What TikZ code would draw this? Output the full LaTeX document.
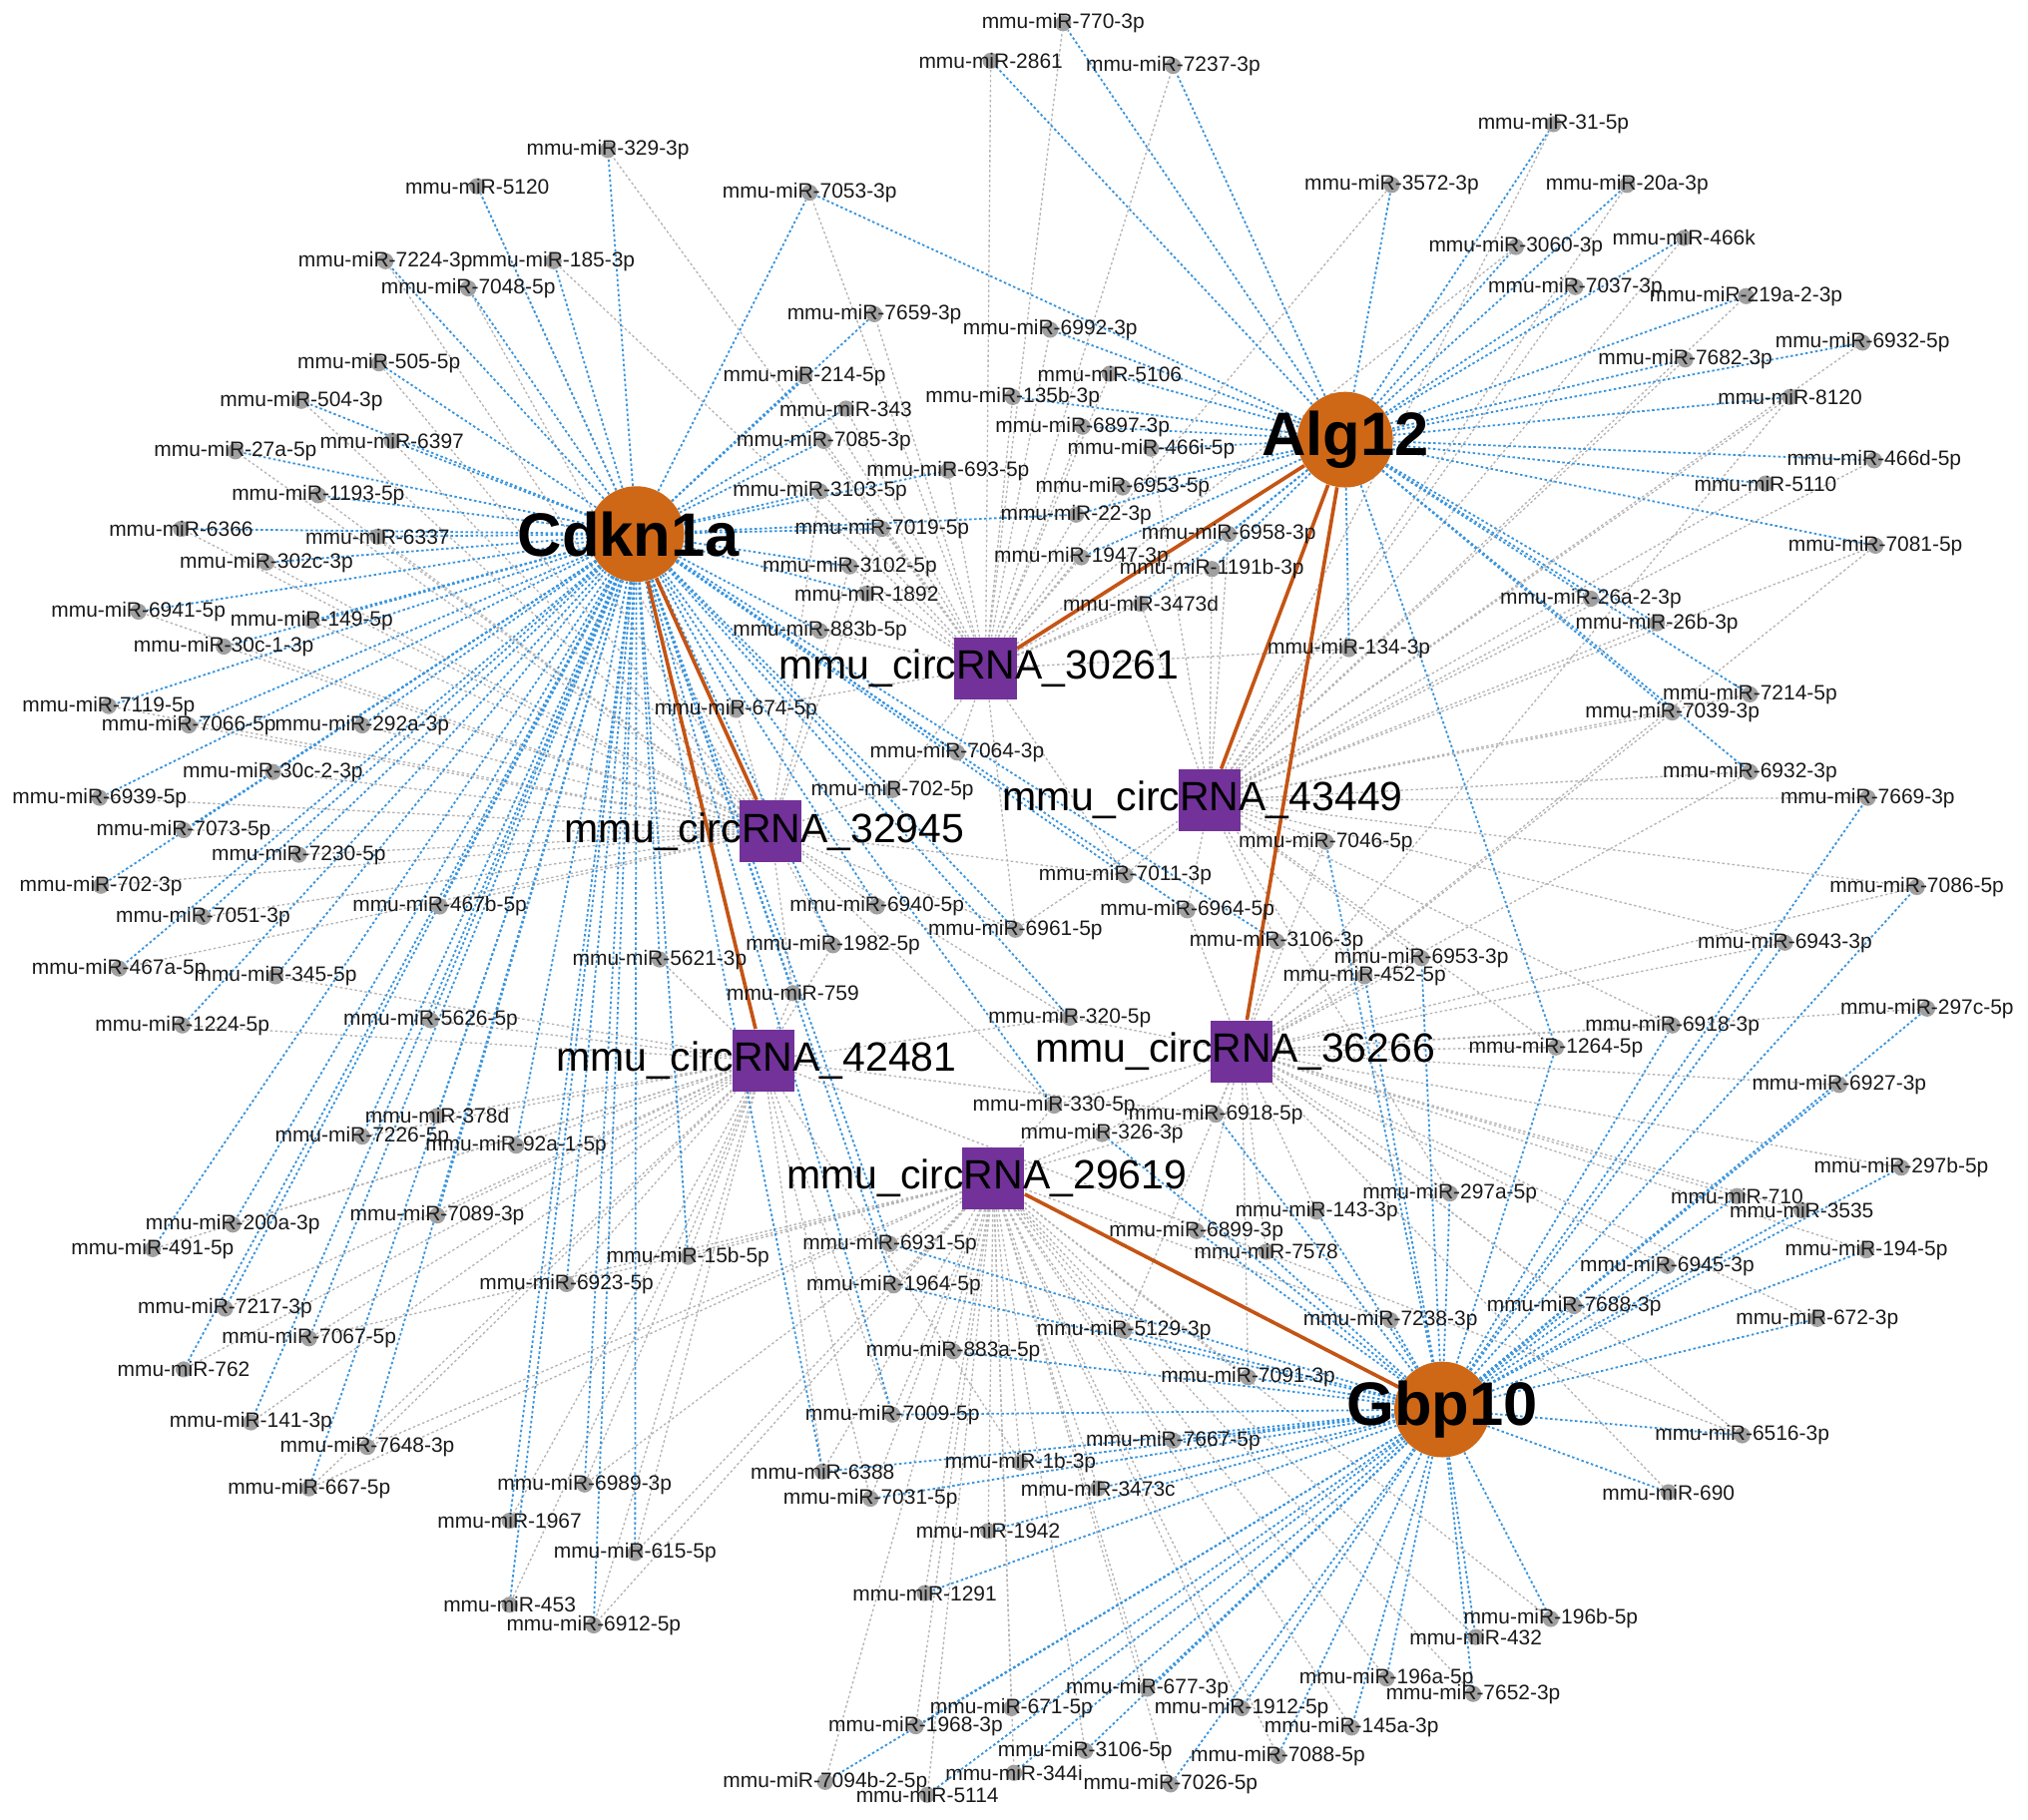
\documentclass[tikz,border=0pt]{standalone}
\usepackage{fontspec}
\setmainfont{Liberation Sans}
\definecolor{geneorange}{RGB}{206,104,22}
\definecolor{circpurple}{RGB}{114,50,154}
\definecolor{dotgray}{RGB}{160,160,160}
\definecolor{labgray}{RGB}{25,25,25}
\definecolor{edgeblue}{RGB}{55,148,222}
\definecolor{edgegray}{RGB}{180,180,180}
\definecolor{edgeorange}{RGB}{196,84,20}
\pgfdeclarelayer{edges}
\pgfsetlayers{edges,main}
\begin{document}
\begin{tikzpicture}[x=0.02cm,y=-0.02cm,
  mir/.style={circle, fill=dotgray, inner sep=0pt, minimum size=0.25cm},
  mirlab/.style={font=\fontsize{9.2}{10}\selectfont, text=labgray, inner sep=0pt},
  gene/.style={circle, fill=geneorange, minimum size=1.48cm, inner sep=0pt},
  genelab/.style={font=\fontsize{27}{30}\selectfont\bfseries, text=black, inner sep=0pt},
  circ/.style={rectangle, fill=circpurple, minimum size=0.96cm, inner sep=0pt},
  circlab/.style={font=\fontsize{18}{20}\selectfont, text=black, inner sep=0pt, xshift=-0.1cm},
  blueedge/.style={draw=edgeblue, line width=0.8pt, dash pattern=on 1.1pt off 1.1pt},
  grayedge/.style={draw=edgegray, line width=0.6pt, dash pattern=on 1.1pt off 1.1pt},
  orangeedge/.style={draw=edgeorange, line width=1.6pt}]
\useasboundingbox (0,0) rectangle (1568,1407);

% genes
\node[gene, label={[genelab, xshift=-0.12cm]center:Cdkn1a}] (cdkn) at (492,413) {};
\node[gene, label={[genelab]center:Alg12}] (alg) at (1040,340) {};
\node[gene, label={[genelab]center:Gbp10}] (gbp) at (1115,1090) {};

% circRNAs
\node[circ, label={[circlab]center:mmu\_circRNA\_30261}] (A) at (762,517) {};
\node[circ, label={[circlab]center:mmu\_circRNA\_32945}] (B) at (596,643) {};
\node[circ, label={[circlab]center:mmu\_circRNA\_43449}] (C) at (935,619) {};
\node[circ, label={[circlab]center:mmu\_circRNA\_42481}] (D) at (590,820) {};
\node[circ, label={[circlab]center:mmu\_circRNA\_36266}] (E) at (960,813) {};
\node[circ, label={[circlab]center:mmu\_circRNA\_29619}] (F) at (768,911) {};

% miRNAs
\foreach \i/\x/\y/\lab in {
1/822/18/770-3p, 2/766/47/2861, 3/907/51/7237-3p, 4/470/116/329-3p, 5/369/144/5120,
6/626/149/7053-3p, 7/1201/96/31-5p, 8/1076/143/3572-3p, 9/1258/143/20a-3p, 10/1172/191/3060-3p,
11/1302/184/466k, 12/1218/222/7037-3p, 13/1350/229/219a-2-3p, 14/298/202/7224-3p, 15/428/202/185-3p,
16/362/223/7048-5p, 17/676/243/7659-3p, 18/812/255/6992-3p, 19/1303/278/7682-3p, 20/1440/265/6932-5p,
21/293/281/505-5p, 22/622/291/214-5p, 23/858/289/5106, 24/783/307/135b-3p, 25/654/316/343,
26/1384/307/8120, 27/233/310/504-3p, 28/303/341/6397, 29/182/349/27a-5p, 30/637/341/7085-3p,
31/837/330/6897-3p, 32/890/347/466i-5p, 33/1449/356/466d-5p, 34/1365/374/5110, 35/733/364/693-5p,
36/246/383/1193-5p, 37/634/380/3103-5p, 38/868/377/6953-5p, 39/832/398/22-3p, 40/140/409/6366,
41/292/415/6337, 42/682/409/7019-5p, 43/950/413/6958-3p, 44/1450/422/7081-5p, 45/206/435/302c-3p,
46/836/431/1947-3p, 47/657/438/3102-5p, 48/937/440/1191b-3p, 49/670/459/1892, 50/882/467/3473d,
51/1230/463/26a-2-3p, 52/1281/482/26b-3p, 53/107/473/6941-5p, 54/241/480/149-5p, 55/173/500/30c-1-3p,
56/634/488/883b-5p, 57/1043/502/134-3p, 58/1353/537/7214-5p, 59/1293/551/7039-3p, 60/84/546/7119-5p,
61/146/561/7066-5p, 62/280/561/292a-3p, 63/569/549/674-5p, 64/740/582/7064-3p, 65/211/597/30c-2-3p,
66/1353/597/6932-3p, 67/1444/617/7669-3p, 68/690/611/702-5p, 69/77/617/6939-5p, 70/142/642/7073-5p,
71/231/661/7230-5p, 72/1025/651/7046-5p, 73/78/685/702-3p, 74/870/677/7011-3p, 75/1482/686/7086-5p,
76/340/701/467b-5p, 77/678/701/6940-5p, 78/918/704/6964-5p, 79/157/709/7051-3p, 80/785/719/6961-5p,
81/987/728/3106-3p, 82/1380/729/6943-3p, 83/644/731/1982-5p, 84/510/742/5621-3p, 85/1099/741/6953-3p,
86/92/749/467a-5p, 87/213/755/345-5p, 88/1055/755/452-5p, 89/613/768/759, 90/1490/780/297c-5p,
91/827/787/320-5p, 92/333/789/5626-5p, 93/141/793/1224-5p, 94/1293/793/6918-3p, 95/1203/810/1264-5p,
96/1422/839/6927-3p, 97/815/855/330-5p, 98/940/862/6918-5p, 99/338/863/378d, 100/852/877/326-3p,
101/280/879/7226-5p, 102/399/886/92a-1-5p, 103/1470/903/297b-5p, 104/1121/923/297a-5p, 105/1343/925/710,
106/1393/936/3535, 107/1018/937/143-3p, 108/180/947/200a-3p, 109/338/940/7089-3p, 110/925/952/6899-3p,
111/118/966/491-5p, 112/688/962/6931-5p, 113/979/968/7578, 114/1443/967/194-5p, 115/532/972/15b-5p,
116/1289/979/6945-3p, 117/438/993/6923-5p, 118/691/994/1964-5p, 119/1217/1010/7688-3p, 120/174/1012/7217-3p,
121/1075/1021/7238-3p, 122/1405/1020/672-3p, 123/869/1029/5129-3p, 124/239/1035/7067-5p, 125/737/1045/883a-5p,
126/142/1059/762, 127/965/1065/7091-3p, 128/194/1100/141-3p, 129/690/1094/7009-5p, 130/1347/1110/6516-3p,
131/284/1119/7648-3p, 132/907/1114/7667-5p, 133/789/1131/1b-3p, 134/636/1138/6388, 135/452/1148/6989-3p,
136/239/1151/667-5p, 137/849/1151/3473c, 138/1290/1154/690, 139/673/1159/7031-5p, 140/394/1176/1967,
141/764/1184/1942, 142/491/1201/615-5p, 143/715/1232/1291, 144/394/1241/453, 145/1199/1252/196b-5p,
146/459/1257/6912-5p, 147/1141/1266/432, 148/1072/1298/196a-5p, 149/887/1306/677-3p, 150/1139/1310/7652-3p,
151/782/1321/671-5p, 152/960/1321/1912-5p, 153/708/1335/1968-3p, 154/1045/1336/145a-3p, 155/839/1354/3106-5p,
156/988/1358/7088-5p, 157/784/1371/344i, 158/638/1378/7094b-2-5p, 159/905/1380/7026-5p, 160/717/1388/5114}
  \node[mir, label={[mirlab]center:mmu-miR-\lab}] (m\i) at (\x,\y) {};

\begin{pgfonlayer}{edges}
% circRNA - miRNA (gray)
\foreach \m in {1,2,3,4,6,8,10,15,17,18,22,23,24,25,30,31,35,38,39,42,43,46,47,48,49,50,56,57,64,37,63,68,80,74}
  \draw[grayedge] (A) -- (m\m);
\foreach \m in {5,14,16,21,27,28,29,36,37,40,41,45,53,54,55,60,61,62,63,65,68,69,70,71,73,76,77,79,80,86,74,89,83,91,97,42,47}
  \draw[grayedge] (B) -- (m\m);
\foreach \m in {7,9,11,12,13,19,20,26,32,33,34,44,51,52,57,58,59,66,67,72,74,75,78,81,85,88,95,104,43,48,50,80,94,82}
  \draw[grayedge] (C) -- (m\m);
\foreach \m in {83,84,87,89,92,93,99,101,102,108,109,111,115,117,120,124,126,128,131,135,136,140,142,144,146,129,134,139,133,91,98,130}
  \draw[grayedge] (D) -- (m\m);
\foreach \m in {26,44,59,66,75,82,85,88,90,91,94,95,96,97,98,100,103,104,105,106,107,110,113,114,116,119,122,130,138,81,78,72,123,127}
  \draw[grayedge] (E) -- (m\m);
\foreach \m in {97,98,100,112,115,117,118,121,123,125,127,129,132,133,134,135,137,139,141,142,143,145,146,147,148,149,150,151,152,153,154,155,156,157,158,159,160,131,136,124}
  \draw[grayedge] (F) -- (m\m);
% gene - miRNA (blue)
\foreach \m in {4,5,6,14,15,16,17,21,22,25,27,28,29,30,35,36,37,39,40,41,42,45,47,49,53,54,55,56,60,61,62,63,64,65,68,69,70,71,73,74,76,77,78,79,80,81,83,84,86,87,89,91,92,93,97,99,101,102,108,109,111,112,115,117,118,120,124,126,128,129,131,134,135,136,140,142,144,146}
  \draw[blueedge] (cdkn) -- (m\m);
\foreach \m in {1,2,3,6,7,8,9,10,11,12,13,18,19,20,23,24,26,31,32,33,34,38,39,43,44,46,48,50,51,52,57,58,59,66,95}
  \draw[blueedge] (alg) -- (m\m);
\foreach \m in {67,72,75,82,85,88,90,94,95,96,98,100,103,104,105,106,107,110,112,113,114,116,118,119,121,122,123,125,127,129,130,132,133,134,137,138,139,141,143,145,147,148,149,150,151,152,153,154,155,156,157,158,159,160}
  \draw[blueedge] (gbp) -- (m\m);
% gene - circRNA (orange)
\draw[orangeedge] (cdkn) -- (B);
\draw[orangeedge] (cdkn) -- (D);
\draw[orangeedge] (alg) -- (A);
\draw[orangeedge] (alg) -- (C);
\draw[orangeedge] (alg) -- (E);
\draw[orangeedge] (F) -- (gbp);
\end{pgfonlayer}
\end{tikzpicture}
\end{document}
